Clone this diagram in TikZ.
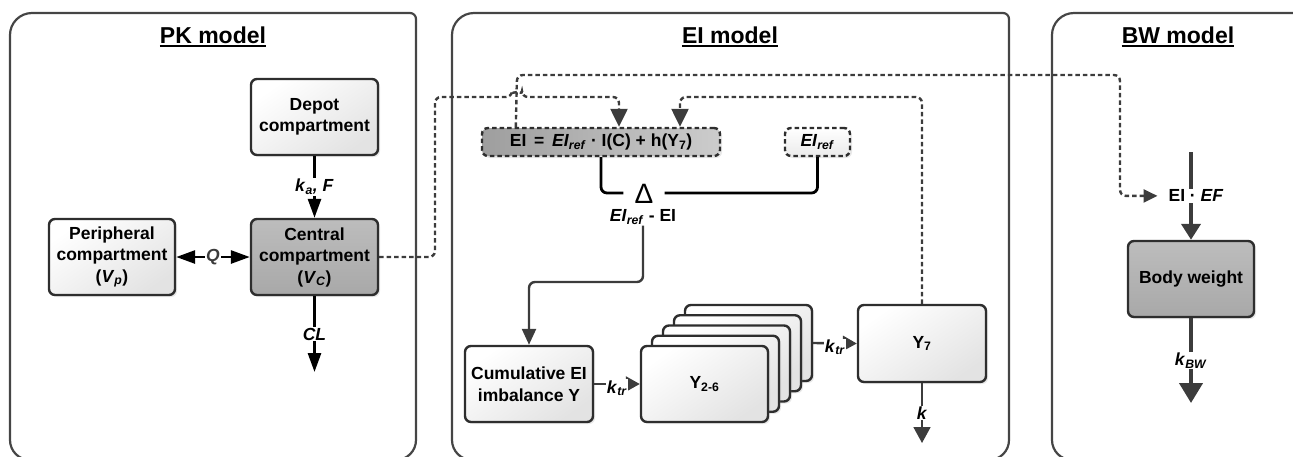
\documentclass[tikz,border=0pt]{standalone}
\usepackage{fontspec}
\setmainfont{Liberation Sans}
\usetikzlibrary{arrows.meta,shadows,calc}
\definecolor{dg}{HTML}{3C3C3C}
\definecolor{bd}{HTML}{2E2E2E}
\definecolor{pan}{HTML}{454545}
\newcommand\sbs[1]{\textsubscript{#1}}
\tikzset{
  txt/.style={font=\bfseries\fontsize{17.5}{21.5}\selectfont, align=center},
  shad/.style={drop shadow={shadow xshift=2pt, shadow yshift=-2pt, opacity=0.18}},
  lightbox/.style={txt, draw=bd, line width=2.4pt, rounded corners=6pt, inner sep=0pt,
    top color=white, bottom color=black!11, shading angle=35, shad},
  graybox/.style={lightbox, top color=black!26, bottom color=black!34},
  dshbox/.style={txt, draw=bd, line width=2.4pt, dash pattern=on 4.5pt off 3pt, rounded corners=6pt,
    inner sep=0pt, minimum height=28pt, shad},
  lbl/.style={txt, fill=white, inner sep=1pt},
  ttl/.style={font=\bfseries\fontsize{23}{27}\selectfont, inner sep=0pt},
  panel/.style={draw=pan, line width=2.2pt},
  pkarr/.style={draw=black, line width=2.8pt, -{Triangle[length=19pt,width=13pt]}},
  pkdbl/.style={draw=black, line width=2.8pt, {Triangle[length=19pt,width=13pt]}-{Triangle[length=19pt,width=13pt]}},
  dgarr/.style={draw=dg, line width=2.4pt, -{Triangle[length=16pt,width=14pt]}},
  trarr/.style={draw=dg, line width=2.4pt, -{Triangle[length=14pt,width=15pt]}},
  karr/.style={draw=dg, line width=1.8pt, -{Triangle[length=16pt,width=17pt]}},
  bwarr/.style={draw=dg, line width=4.2pt, -{Triangle[length=16pt,width=19pt]}},
  bwbig/.style={draw=dg, line width=4.2pt, -{Triangle[length=20pt,width=23pt]}},
  dsh/.style={draw=dg, line width=2.4pt, dash pattern=on 4.5pt off 3pt, rounded corners=6pt},
  tipL/.style={-{Triangle[length=18pt,width=17pt]}},
  tipS/.style={-{Triangle[length=14pt,width=13pt]}},
  sumline/.style={draw=black, line width=2.8pt, rounded corners=6pt}
}
\newcommand\panelpath[2]{%
  \draw[panel] (#1,440) -- (#1,35) arc[start angle=180,end angle=90,radius=22pt]
    -- (#2-6,13) arc[start angle=90,end angle=0,radius=6pt]
    -- (#2,440) arc[start angle=0,end angle=-90,radius=20pt]
    -- (#1+20,460) arc[start angle=270,end angle=180,radius=20pt] -- cycle;}
\begin{document}
\begin{tikzpicture}[x=1pt,y=-1pt]
\useasboundingbox (0,0) rectangle (1293,456);
\begin{scope}
  \clip (0,0) rectangle (1293,456);
  \panelpath{10}{416}
  \panelpath{452}{1009}
  \panelpath{1052}{1320}
\end{scope}

% titles
\node[ttl] (pkt) at (213,35) {PK model};
\node[ttl] (eit) at (730,35) {EI model};
\node[ttl] (bwt) at (1178,35) {BW model};
\foreach \t in {pkt,eit,bwt}
  \draw[line width=1.8pt] ([yshift=-3pt]\t.base west) -- ([yshift=-3pt]\t.base east);

% PK model
\node[lightbox, minimum width=127pt, minimum height=76pt] (depot) at (314.5,117) {Depot\\compartment};
\node[graybox, minimum width=127pt, minimum height=76pt] (central) at (314.5,257) {Central\\compartment\\(\textit{V}\sbs{\textit{C}})};
\node[lightbox, minimum width=126pt, minimum height=76pt] (periph) at (112,257) {Peripheral\\compartment\\(\textit{V}\sbs{\textit{p}})};
\coordinate (clend) at (314.5,372);
\draw[pkarr] (depot) -- node[lbl]{\textit{k}\sbs{\textit{a}}\textit{, F}} (central);
\draw[pkdbl] (periph) -- node[lbl, text=dg]{\textit{Q}} (central);
\draw[pkarr] (central) -- node[lbl]{\textit{CL}} (clend);

% EI model
\node[dshbox, minimum width=238pt, left color=black!38, right color=black!20] (eqbox) at (601,142)
  {EI\ \,=\ \,\textit{EI}\sbs{\textit{ref}} · I(C) + h(Y\sbs{7})};
\node[dshbox, minimum width=65pt, top color=white, bottom color=black!8] (eiref) at (817.5,142)
  {\textit{EI}\sbs{\textit{ref}}};
\node[font=\fontsize{28}{28}\selectfont, anchor=base, inner xsep=11pt, inner ysep=0pt,
  text height=20pt, text depth=0pt] (delta) at (644,203) {Δ};
\node[txt, inner sep=1pt] (diff) at (643,217) {\textit{EI}\sbs{\textit{ref}} - EI};
\draw[sumline] (eqbox.south) |- (delta.west);
\draw[sumline] (delta.east) -| (eiref.south);

\node[lightbox, minimum width=128pt, minimum height=76pt] (cum) at (529,384) {Cumulative EI\\imbalance Y};
\foreach \i in {4,3,2,1}
  \node[lightbox, minimum width=127pt, minimum height=76pt] (y26b\i) at ($(704.5,384)+(11*\i,-10.25*\i)$) {};
\node[lightbox, minimum width=127pt, minimum height=76pt] (y26) at (704.5,384) {Y\sbs{2-6}};
\node[lightbox, minimum width=128pt, minimum height=77pt] (y7) at (922,343.5) {Y\sbs{7}};
\coordinate (kend) at (922,443);

\draw[dgarr, rounded corners=6pt] (diff.south) -- (diff.south |- 0,282) -- (cum.north |- 0,282) -- (cum.north);
\draw[trarr] (cum) -- node[lbl, yshift=-4pt]{\textit{k}\sbs{\textit{tr}}} (y26);
\draw[trarr] (y26b4.east) -- node[lbl, yshift=-4pt]{\textit{k}\sbs{\textit{tr}}} (y7.west);
\draw[karr] (y7) -- node[lbl]{\textit{k}} (kend);

% BW model
\node[graybox, minimum width=126pt, minimum height=76pt] (body) at (1191,279) {Body weight};
\coordinate (bwtop) at (1191,152);
\coordinate (kbwend) at (1191,403);
\draw[bwarr] (bwtop) -- node[lbl, xshift=5pt] (ef) {EI · \textit{EF}} (body);
\draw[bwbig] (body) -- node[lbl]{\textit{k}\sbs{\textit{BW}}} (kbwend);

% dashed feedback / signal lines
\draw[dsh, tipL] (central.east) -- (435,257) -- (435,97) -- (512,97)
  arc[start angle=180,end angle=0,radius=5pt] -- (619,97) -- (619,0 |- eqbox.north);
\draw[dsh, tipS, shorten >=8pt] ($(eqbox.north west)+(35,0)$) -- (517,75) -- (1120,75) -- (1120,0 |- ef.west) -- (ef.west);
\draw[dsh, tipL] (y7.north) -- (y7.north |- 0,97) -- (680,97) -- (680,0 |- eqbox.north);
\end{tikzpicture}
\end{document}
